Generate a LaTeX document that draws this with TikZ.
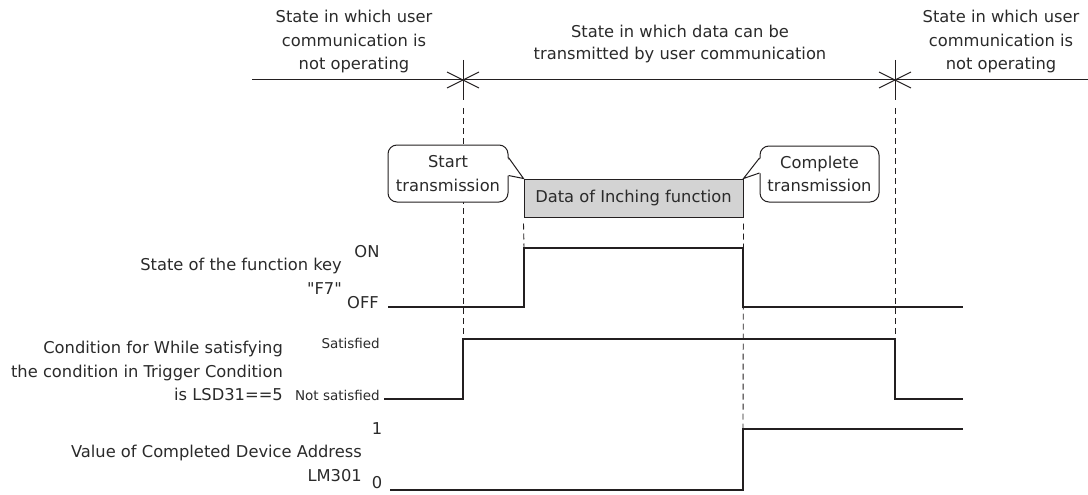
\documentclass[tikz,border=0pt]{standalone}
\usepackage{fontspec}
\setmainfont{DejaVu Sans}
\newfontfamily\plainfont{DejaVu Sans}
\usetikzlibrary{calc}
\definecolor{ink}{HTML}{231F20}
\definecolor{txt}{HTML}{2A2A2A}
\definecolor{boxgray}{HTML}{D3D3D3}
\begin{document}
\begin{tikzpicture}[x=1pt,y=-1pt,
  lbl/.style={inner sep=0pt, font=\fontsize{16.3}{23.5}\selectfont, text=txt},
  small/.style={inner sep=0pt, font=\fontsize{13.5}{16}\selectfont, text=txt},
  sig/.style={line width=2.5pt, draw=ink, line join=miter},
  guide/.style={draw=ink, line width=0.9pt, dash pattern=on 6pt off 4pt},
  axis/.style={draw=ink, line width=1pt},
  bubble/.style={draw=ink, line width=1pt, fill=white, rounded corners=9pt, inner sep=0pt,
    align=center, font=\fontsize{16.3}{23.5}\selectfont, text=txt},
  databox/.style={draw=ink, line width=1pt, fill=boxgray, inner sep=0pt,
    minimum width=219pt, minimum height=38pt, font=\fontsize{16.3}{20}\selectfont, text=txt}
]
\useasboundingbox (0,0) rectangle (1088,495);

% top time axis
\coordinate (L0) at (252,80);
\coordinate (R0) at (1088,80);
\coordinate (t1) at (463,80);
\coordinate (t2) at (895,80);
\draw[axis] (L0) -- (R0);
\foreach \t in {t1,t2}{
  \draw[axis] ($(\t)+(0,-20)$) -- ($(\t)+(0,20)$);
  \draw[axis] ($(\t)+(-16,-8)$) -- ($(\t)+(16,8)$);
  \draw[axis] ($(\t)+(-16,8)$) -- ($(\t)+(16,-8)$);
}

% top state labels
\node[lbl, align=center] (s1) at (354,42) {State in which user\\communication is\\not operating};
\node[lbl, align=center, font=\fontsize{16.3}{22}\selectfont] (s2) at (680,44) {State in which data can be\\transmitted by user communication};
\node[lbl, align=center] (s3) at (1001,42) {State in which user\\communication is\\not operating};

% signal corner coordinates
\coordinate (fa) at (388,307);
\coordinate (fb) at (524,307);
\coordinate (fc) at (524,248);
\coordinate (fd) at (743,248);
\coordinate (fe) at (743,307);
\coordinate (ff) at (963,307);

\coordinate (ca) at (384,399);
\coordinate (cb) at (463,399);
\coordinate (cc) at (463,339);
\coordinate (cd) at (895,339);
\coordinate (ce) at (895,399);
\coordinate (cf) at (963,399);

\coordinate (la) at (390,490);
\coordinate (lb) at (743,490);
\coordinate (lc) at (743,429);
\coordinate (ld) at (963,429);

% data box
\node[databox] (data) at (633.5,198) {Data of Inching function};

% guide lines
\draw[guide] ($(t1)+(0,28)$) -- (cc);
\draw[guide] ($(t2)+(0,28)$) -- (cd);
\draw[guide] (data.south west) ++(0,6) -- (fc);
\draw[guide] (data.south east) ++(0,6) -- (lc);

% callouts
\node[bubble, minimum width=120pt, minimum height=57pt] (st) at (448,173.5) {Start\\transmission};
\fill[white] ($(st.east)+(-1.6,-16)$) -- (data.north west) -- ($(st.east)+(-1.6,2)$) -- cycle;
\draw[axis, line join=miter] ($(st.east)+(0,-16)$) -- (data.north west) -- ($(st.east)+(0,2)$);

\node[bubble, minimum width=119pt, minimum height=56pt] (ct) at (819.5,174) {Complete\\transmission};
\fill[white] ($(ct.west)+(1.6,-16)$) -- (data.north east) -- ($(ct.west)+(1.6,-1)$) -- cycle;
\draw[axis, line join=miter] ($(ct.west)+(0,-16)$) -- (data.north east) -- ($(ct.west)+(0,-1)$);

% signals
\draw[sig] (fa) -- (fb) -- (fc) -- (fd) -- (fe) -- (ff);
\draw[sig] (ca) -- (cb) -- (cc) -- (cd) -- (ce) -- (cf);
\draw[sig] (la) -- (lb) -- (lc) -- (ld);

% signal labels
\node[lbl, align=right, anchor=east] (fk) at (342,276.5) {State of the function key\\{\plainfont "F7"}};
\node[lbl] (on) at (367,252) {ON};
\node[lbl] (off) at (363,303) {OFF};

\node[lbl, align=right, anchor=east] (cond) at (283,371) {Condition for While satisfying\\the condition in Trigger Condition\\is LSD31==5};
\node[small, anchor=east] (sat) at (380,343) {Satisfied};
\node[small, anchor=east] (nsat) at (380,395) {Not satisfied};

\node[lbl, align=right, anchor=east] (lm) at (362,463.5) {Value of Completed Device Address\\LM301};
\node[lbl] (one) at (377,429) {1};
\node[lbl] (zero) at (377,483) {0};
\end{tikzpicture}
\end{document}
